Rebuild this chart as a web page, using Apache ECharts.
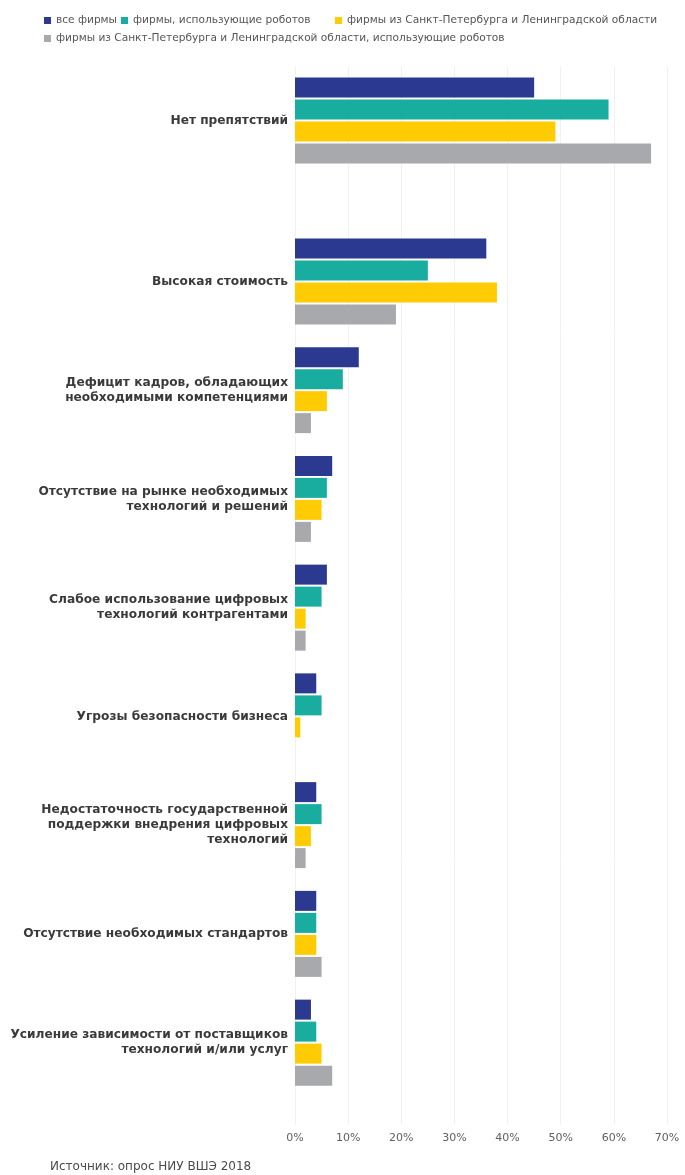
<!DOCTYPE html>
<html>
<head>
<meta charset="utf-8">
<script src="https://cdn.jsdelivr.net/npm/echarts@6/dist/echarts.min.js"></script>
<style>
  html, body { margin: 0; padding: 0; background: #ffffff; }
  #chart { width: 685px; height: 1175px; }
</style>
</head>
<body>
<div id="chart"></div>
<script>
// Barriers to digital technology adoption, share of firms (%)
const categories = [
  'Нет препятствий',
  'Высокая стоимость',
  'Дефицит кадров, обладающих\nнеобходимыми компетенциями',
  'Отсутствие на рынке необходимых\nтехнологий и решений',
  'Слабое использование цифровых\nтехнологий контрагентами',
  'Угрозы безопасности бизнеса',
  'Недостаточность государственной\nподдержки внедрения цифровых\nтехнологий',
  'Отсутствие необходимых стандартов',
  'Усиление зависимости от поставщиков\nтехнологий и/или услуг'
];
const seriesNames = [
  'все фирмы',
  'фирмы, использующие роботов',
  'фирмы из Санкт-Петербурга и Ленинградской области',
  'фирмы из Санкт-Петербурга и Ленинградской области, использующие роботов'
];
const allFirms      = [45, 36, 12, 7, 6, 4, 4, 4, 3];
const robotFirms    = [59, 25, 9, 6, 5, 5, 5, 4, 4];
const spbFirms      = [49, 38, 6, 5, 2, 1, 3, 4, 5];
const spbRobotFirms = [67, 19, 3, 3, 2, 0, 2, 5, 7];
const xTicks = [0, 10, 20, 30, 40, 50, 60, 70];
const sourceNote = 'Источник: опрос НИУ ВШЭ 2018';

const colors = ['#2b3990', '#19ad9f', '#ffcb05', '#a7a9ac'];
const values = [allFirms, robotFirms, spbFirms, spbRobotFirms];

const chart = echarts.init(document.getElementById('chart'), null, { renderer: 'canvas' });

const GRID_LEFT = 295, GRID_RIGHT = 18;
const labelStyle = {
  color: '#3a3a3a',
  fontFamily: 'DejaVu Sans',
  fontWeight: 'bold',
  fontSize: 12.2,
  lineHeight: 15,
  align: 'right',
  margin: 7
};

// grid 0: background with vertical guides and tick labels
// grid 1: the first category ("Нет препятствий"), set apart from the rest
// grid 2: remaining categories
const grids = [
  { left: GRID_LEFT, right: GRID_RIGHT, top: 66, bottom: 50 },
  { left: GRID_LEFT, right: GRID_RIGHT, top: 66, height: 109 },
  { left: GRID_LEFT, right: GRID_RIGHT, top: 227, height: 870 }
];

const xAxes = [
  {
    gridIndex: 0, type: 'value', min: 0, max: xTicks[xTicks.length - 1], interval: 10,
    axisLine: { show: false }, axisTick: { show: false },
    splitLine: { show: true, lineStyle: { color: '#f1f1f1', width: 1 } },
    axisLabel: {
      formatter: v => v + '%', color: '#606060', fontFamily: 'DejaVu Sans',
      fontSize: 11, margin: 8
    }
  },
  { gridIndex: 1, type: 'value', min: 0, max: 70, show: false },
  { gridIndex: 2, type: 'value', min: 0, max: 70, show: false }
];

const yAxes = [
  { gridIndex: 0, type: 'value', min: 0, max: 1, show: false },
  {
    gridIndex: 1, type: 'category', inverse: true, data: categories.slice(0, 1),
    axisLine: { show: false }, axisTick: { show: false }, axisLabel: labelStyle
  },
  {
    gridIndex: 2, type: 'category', inverse: true, data: categories.slice(1),
    axisLine: { show: false }, axisTick: { show: false }, axisLabel: labelStyle
  }
];

const series = [];
values.forEach((vals, i) => {
  series.push({
    name: seriesNames[i], type: 'bar', xAxisIndex: 1, yAxisIndex: 1,
    data: vals.slice(0, 1), barWidth: 20, barGap: '10%',
    itemStyle: { color: colors[i] }, silent: true
  });
  series.push({
    name: seriesNames[i], type: 'bar', xAxisIndex: 2, yAxisIndex: 2,
    data: vals.slice(1), barWidth: 20, barGap: '10%',
    itemStyle: { color: colors[i] }, silent: true
  });
});

const legendText = { color: '#555555', fontFamily: 'DejaVu Sans', fontSize: 10.6 };
const legendPos = [
  { left: 44, top: 15 },
  { left: 121, top: 15 },
  { left: 335, top: 15 },
  { left: 44, top: 33 }
];
const legends = seriesNames.map((n, i) => ({
  data: [n], left: legendPos[i].left, top: legendPos[i].top,
  icon: 'rect', itemWidth: 7, itemHeight: 7, itemGap: 0,
  textStyle: legendText, selectedMode: false, padding: 0
}));

chart.setOption({
  animation: false,
  color: colors,
  grid: grids,
  xAxis: xAxes,
  yAxis: yAxes,
  legend: legends,
  title: {
    text: sourceNote, left: 50, top: 1161, padding: 0,
    textStyle: { color: '#4a4a4a', fontFamily: 'DejaVu Sans', fontSize: 12, fontWeight: 'normal' }
  },
  series: series
});
</script>
</body>
</html>
